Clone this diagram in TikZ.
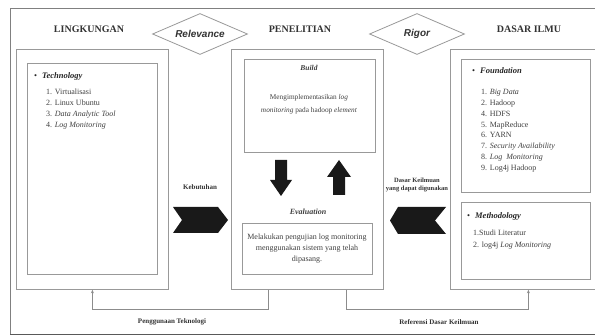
\documentclass[tikz,border=0pt]{standalone}
\usepackage{fontspec}
\setmainfont{Liberation Serif}
\newfontfamily\arialfont{Liberation Sans}
\usetikzlibrary{shapes.geometric,arrows.meta}
\begin{document}
\begin{tikzpicture}[x=1pt,y=-1pt,
  box/.style={draw=black!40, line width=0.8pt, fill=white, inner sep=0pt, anchor=north west},
  hdr/.style={font=\fontsize{10}{12}\selectfont\bfseries, text=black!80, inner sep=0pt},
  dia/.style={diamond, draw=black!40, line width=0.8pt, aspect=2.3, inner sep=0pt,
    minimum width=95pt, minimum height=41pt, font=\arialfont\fontsize{10}{12}\selectfont\bfseries\itshape, text=black!80},
  listtxt/.style={anchor=north west, align=left, inner sep=0pt, text=black!75, font=\fontsize{8}{10.8}\selectfont},
  bul/.style={anchor=west, inner sep=0pt, text=black!85, font=\fontsize{8.5}{10}\selectfont},
  body/.style={align=center, inner sep=0pt, text=black!75},
  lbl/.style={inner sep=0pt, text=black!80, font=\fontsize{7}{8}\selectfont\bfseries},
  blk/.style={fill=black!90, draw=none},
  conn/.style={draw=black!45, line width=0.8pt, -{Stealth[length=3.5pt,width=3pt]}}
]
\useasboundingbox (0,0) rectangle (595,336);
\clip (0,0) rectangle (595,336);
% outer frame
\fill[white] (0,0) rectangle (595,336);
\draw[draw=black!50, line width=0.8pt] (10,8) rectangle (620,334);
\draw[draw=black!65, line width=1.6pt] (10,334.5) -- (620,334.5);

% headers
\node[hdr] (hl) at (89,29) {LINGKUNGAN};
\node[hdr] (hp) at (300,29) {PENELITIAN};
\node[hdr] (hd) at (529,29) {DASAR ILMU};
\node[dia] (rel) at (200,34) {Relevance};
\node[dia] (rig) at (417,34) {Rigor};

% boxes
\node[box, minimum width=152pt, minimum height=240pt] (lbox) at (16,49) {};
\node[box, minimum width=130pt, minimum height=211pt] (lin) at (27,63) {};
\node[box, minimum width=152pt, minimum height=240pt] (cbox) at (231,49) {};
\node[box, minimum width=131pt, minimum height=93pt] (bbox) at (244,59) {};
\node[box, minimum width=130pt, minimum height=51pt] (ebox) at (242,223) {};
\node[box, minimum width=156pt, minimum height=240pt] (rbox) at (450,49) {};
\node[box, minimum width=129pt, minimum height=133pt] (fbox) at (461,59) {};
\node[box, minimum width=129pt, minimum height=77pt] (mbox) at (461,202) {};

% left texts
\node[bul] (tech) at (34,76) {\textbullet\hspace{5pt}\textbf{\textit{Technology}}};
\node[listtxt] (techl) at (46,89.2) {1. Virtualisasi\\2. Linux Ubuntu\\3. \textit{Data Analytic Tool}\\4. \textit{Log Monitoring}};

% right texts
\node[bul] (found) at (472,71) {\textbullet\hspace{5pt}\textbf{\textit{Foundation}}};
\node[listtxt] (foundl) at (481,89.2) {1. \textit{Big Data}\\2. Hadoop\\4. HDFS\\5. MapReduce\\6. YARN\\7. \textit{Security Availability}\\8. \textit{Log\ \ Monitoring}\\9. Log4j Hadoop};
\node[bul] (meth) at (467,216) {\textbullet\hspace{5pt}\textbf{\textit{Methodology}}};
\node[listtxt, font=\fontsize{8}{12}\selectfont] (methl) at (473,230.2) {1.Studi Literatur\\2. log4j \textit{Log Monitoring}};

% center texts
\node[body, font=\fontsize{7.5}{9}\selectfont\bfseries\itshape] (buildt) at (309,68) {Build};
\node[body, font=\fontsize{7.3}{13}\selectfont] (buildb) at (309,104.5) {Mengimplementasikan \textit{log}\\\textit{monitoring} pada hadoop \textit{element}};
\node[body, font=\fontsize{8}{9}\selectfont\bfseries\itshape] (evalt) at (308,212) {Evaluation};
\node[body, font=\fontsize{8}{11}\selectfont] (evalb) at (307,249) {Melakukan pengujian log monitoring\\menggunakan sistem yang telah\\dipasang.};

% block arrows
\path[blk] (275,160) -- (287,160) -- (287,180) -- (292,180) -- (281,196) -- (270,180) -- (275,180) -- cycle;
\path[blk] (339,160) -- (351,177) -- (345,177) -- (345,195) -- (333,195) -- (333,177) -- (327,177) -- cycle;

% chevrons
\path[blk] (173,207) -- (218,207) -- (228,220) -- (218,233) -- (173,233) -- (182,220) -- cycle;
\path[blk] (398,207) -- (446,207) -- (435,220.5) -- (446,234) -- (398,234) -- (390,220.5) -- cycle;
\node[lbl] (keb) at (200,187) {Kebutuhan};
\node[lbl, align=center, font=\fontsize{6.5}{8}\selectfont\bfseries] (dk) at (417,185) {Dasar Keilmuan\\yang dapat digunakan};

% bottom connectors
\draw[conn] ([xshift=-39pt]cbox.south) -- ++(0,20) -| (lbox.south);
\draw[conn] ([xshift=39pt]cbox.south) -- ++(0,20) -| (rbox.south);
\node[lbl] (pt) at (172,322) {Penggunaan Teknologi};
\node[lbl] (rdk) at (439,322) {Referensi Dasar Keilmuan};
\end{tikzpicture}
\end{document}
